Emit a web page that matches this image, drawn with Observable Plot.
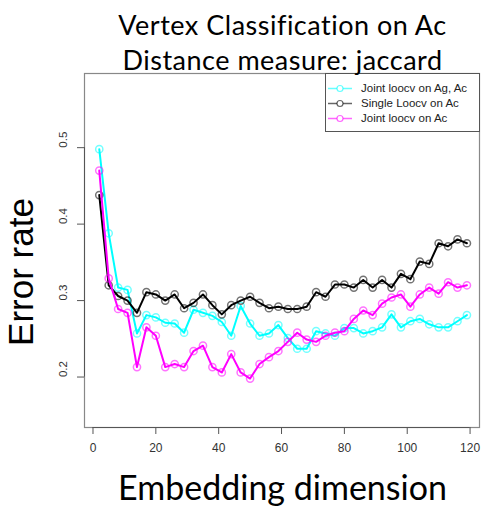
<!DOCTYPE html>
<html>
<head>
<meta charset="utf-8">
<script src="https://cdn.jsdelivr.net/npm/d3@7"></script>
<script src="https://cdn.jsdelivr.net/npm/@observablehq/plot@0.6"></script>
<style>
  html, body { margin: 0; padding: 0; background: #fff; }
  #wrap { position: relative; width: 481px; height: 506px; overflow: hidden; }
  #wrap > svg { position: absolute; left: 0; top: 0; z-index: 0; }
  .title { position: absolute; left: 84px; top: 7px; width: 397px; text-align: center; z-index: 5;
           font-family: Lato, "Open Sans", sans-serif; font-size: 27px; letter-spacing: 0.5px; line-height: 35px; color: #000; white-space: nowrap; }
  .xlab { position: absolute; left: 84px; top: 467px; width: 397px; text-align: center; z-index: 5;
          font-family: Lato, "Open Sans", sans-serif; font-size: 34px; line-height: 40px; color: #000; white-space: nowrap; }
  .ylab { position: absolute; left: 20px; top: 272px; transform: translate(-50%, -50%) rotate(-90deg); z-index: 5;
          font-family: "Liberation Sans", Arial, sans-serif; font-size: 35px; line-height: 35px; white-space: nowrap; color: #000; }
  .legend { position: absolute; left: 325px; top: 73px; width: 155px; height: 59px; box-sizing: border-box; z-index: 3;
            border: 1px solid #555; background: #fff; font-family: "Liberation Sans", Arial, sans-serif; font-size: 11.5px; color: #222; }
  .legend .row { position: absolute; left: 0; height: 15px; line-height: 15px; white-space: nowrap; }
  .legend svg { position: absolute; left: 2px; top: 1px; }
  .legend span { position: absolute; left: 35px; top: 0; }
</style>
</head>
<body>
<div id="wrap"></div>
<script>
const titleLines = ["Vertex Classification on Ac", "Distance measure: jaccard"];
const xLabel = "Embedding dimension";
const yLabel = "Error rate";
const seriesNames = ["Joint loocv on Ag, Ac", "Single Loocv on Ac", "Joint loocv on Ac"];
const seriesColors = ["#00FFFF", "#000000", "#FF00FF"];

const dims = [2,5,8,11,14,17,20,23,26,29,32,35,38,41,44,47,50,53,56,59,62,65,68,71,74,77,80,83,86,89,92,95,98,101,104,107,110,113,116,119];

const jointAgAc = [0.498,0.388,0.317,0.314,0.257,0.281,0.278,0.271,0.270,0.258,0.288,0.284,0.280,0.272,0.254,0.293,0.270,0.254,0.257,0.268,0.251,0.237,0.237,0.260,0.257,0.254,0.264,0.264,0.257,0.260,0.265,0.282,0.265,0.273,0.276,0.269,0.265,0.265,0.273,0.281];
const singleAc = [0.438,0.320,0.306,0.300,0.284,0.311,0.308,0.300,0.308,0.290,0.297,0.308,0.294,0.282,0.294,0.300,0.305,0.297,0.290,0.292,0.289,0.289,0.292,0.311,0.305,0.321,0.321,0.317,0.327,0.317,0.327,0.317,0.335,0.328,0.351,0.348,0.375,0.371,0.380,0.375];
const jointAc = [0.470,0.329,0.289,0.284,0.213,0.265,0.254,0.213,0.217,0.213,0.234,0.241,0.213,0.206,0.230,0.206,0.198,0.217,0.226,0.234,0.246,0.258,0.249,0.246,0.254,0.258,0.260,0.276,0.287,0.281,0.296,0.304,0.308,0.292,0.308,0.317,0.309,0.324,0.317,0.320];

const xTicks = [0,20,40,60,80,100,120];
const yTicks = [0.2,0.3,0.4,0.5];

const seriesValues = [jointAgAc, singleAc, jointAc];
const data = [];
seriesValues.forEach((vals, s) => vals.forEach((v, i) => data.push({series: seriesNames[s], x: dims[i], y: v})));

const xDomain = [-2.7, 123];
const yDomain = [0.134, 0.597];

const marks = [
  Plot.frame({stroke: "#888", strokeWidth: 1.2}),
  Plot.axisX({ticks: xTicks, tickSize: 7, tickPadding: 9, label: null, fontSize: 12, stroke: "#555", color: "#333"}),
  Plot.axisY({ticks: yTicks, tickSize: 7, tickFormat: () => "", label: null, stroke: "#555"}),
  Plot.ruleY([yDomain[0]], {x1: xTicks[0], x2: xTicks[xTicks.length - 1], stroke: "#555"}),
  Plot.ruleX([xDomain[0]], {y1: yTicks[0], y2: yTicks[yTicks.length - 1], stroke: "#555"}),
  Plot.text(yTicks, {y: d => d, frameAnchor: "left", dx: -21, rotate: -90, text: d => d.toFixed(1),
    fontSize: 11.5, fill: "#333", fontFamily: "Liberation Sans, Arial, sans-serif"})
];
seriesNames.forEach((name, s) => {
  const d = data.filter(r => r.series === name);
  marks.push(Plot.line(d, {x: "x", y: "y", stroke: seriesColors[s], strokeWidth: 2}));
  marks.push(Plot.dot(d, {x: "x", y: "y", r: 3.6, stroke: seriesColors[s], strokeWidth: 1.5, strokeOpacity: 0.55, fill: "none"}));
});

const chart = Plot.plot({
  width: 481, height: 506,
  marginLeft: 84, marginRight: 2, marginTop: 73, marginBottom: 79,
  style: {fontFamily: "Liberation Sans, Arial, sans-serif", fontSize: "12px", background: "transparent", overflow: "visible"},
  x: {domain: xDomain},
  y: {domain: yDomain},
  marks
});

const wrap = document.getElementById("wrap");
wrap.appendChild(chart);

const t = document.createElement("div");
t.className = "title";
t.innerHTML = titleLines.map(s => `<div>${s}</div>`).join("");
wrap.appendChild(t);

const xl = document.createElement("div");
xl.className = "xlab"; xl.textContent = xLabel; wrap.appendChild(xl);
const yl = document.createElement("div");
yl.className = "ylab"; yl.textContent = yLabel; wrap.appendChild(yl);

const lg = document.createElement("div");
lg.className = "legend";
seriesNames.forEach((name, s) => {
  const row = document.createElement("div");
  row.className = "row";
  row.style.top = (7 + s * 15) + "px";
  row.innerHTML = `<svg width="30" height="13"><line x1="0" x2="24" y1="6.5" y2="6.5" stroke="${seriesColors[s]}" stroke-opacity="0.6" stroke-width="1.5"/><circle cx="12" cy="6.5" r="3" fill="#fff" stroke="${seriesColors[s]}" stroke-opacity="0.6" stroke-width="1.2"/></svg><span>${name}</span>`;
  lg.appendChild(row);
});
wrap.appendChild(lg);
</script>
</body>
</html>
